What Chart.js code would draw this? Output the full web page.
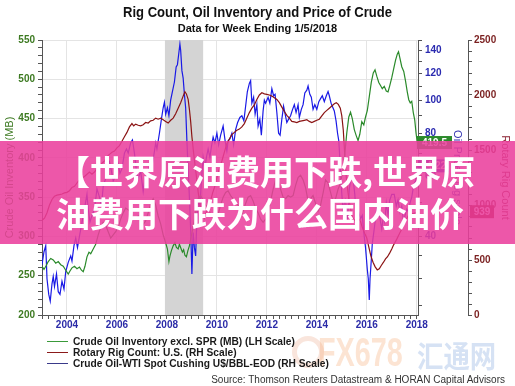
<!DOCTYPE html>
<html>
<head>
<meta charset="utf-8">
<script src="https://cdn.jsdelivr.net/npm/chart.js@4.4.1/dist/chart.umd.min.js"></script>
<style>
  body { margin: 0; background: #fff; }
  #wrap { position: relative; width: 515px; height: 386px; overflow: hidden; font-family: Arial, "Liberation Sans", sans-serif; }
  #chart { position: absolute; left: 0; top: 0; }
  .title { position: absolute; left: 0; width: 515px; text-align: center; font-weight: bold; color: #111; white-space: nowrap; }
  .legend { position: absolute; left: 47px; font-size: 10.2px; font-weight: bold; color: #1a1a1a; white-space: nowrap; line-height: 11px; }
  .legend span { display: inline-block; width: 21px; height: 0; border-top-width: 1.5px; border-top-style: solid; vertical-align: middle; margin-right: 5px; margin-top: -2px; }
  .source { position: absolute; right: 10px; top: 374px; font-size: 10px; color: #333; white-space: nowrap; }
  .wm { position: absolute; white-space: nowrap; font-weight: bold; }
  #banner { position: absolute; left: 0; top: 141px; width: 515px; height: 103px; background: rgba(234, 62, 156, 0.87); z-index: 5; }
  #banner div { position: absolute; left: 56px; color: #fff; font-family: "Noto Sans CJK SC", sans-serif; font-weight: bold; font-size: 34px; line-height: 42px; white-space: nowrap; }
</style>
</head>
<body>
<div id="wrap">
  <canvas id="chart" width="515" height="386"></canvas>
  <div class="title" style="top:4px;font-size:15px;line-height:16px;transform:scaleX(0.87);">Rig Count, Oil Inventory and Price of Crude</div>
  <div class="title" style="top:22px;font-size:11px;line-height:13px;">Data for Week Ending 1/5/2018</div>

  <div class="wm" style="left:292px;top:336px;width:22px;height:22px;border:5px solid rgba(235,170,140,0.3);border-radius:50%;"></div>
  <div class="wm" style="left:318px;top:330px;font-size:40px;color:rgba(245,165,110,0.3);transform:scaleX(0.72);transform-origin:left;">FX678</div>
  <div class="wm" style="left:417px;top:332px;font-size:30px;color:rgba(120,160,220,0.3);font-family:'Noto Sans CJK SC';transform:scaleX(0.88);transform-origin:left;">汇通网</div>

  <div class="legend" style="top:336px;"><span style="border-top-color:#3a9a3a"></span>Crude Oil Inventory excl. SPR (MB) (LH Scale)</div>
  <div class="legend" style="top:347px;"><span style="border-top-color:#8b1a1a"></span>Rotary Rig Count: U.S. (RH Scale)</div>
  <div class="legend" style="top:358px;"><span style="border-top-color:#3a3a8a"></span>Crude Oil-WTI Spot Cushing U$/BBL-EOD (RH Scale)</div>
  <div class="source">Source: Thomson Reuters Datastream &amp; HORAN Capital Advisors</div>

  <div id="banner">
    <div style="top:9px;">【世界原油费用下跌,世界原</div>
    <div style="top:51px;">油费用下跌为什么国内油价</div>
  </div>
</div>
<script>
// weekly series as [year, value]
const inventory = [
  [2003.0,262],[2003.08,258],[2003.17,263],[2003.25,268],[2003.35,272],[2003.45,270],[2003.55,266],[2003.65,268],
  [2003.75,264],[2003.85,262],[2003.95,257],[2004.05,252],[2004.12,256],[2004.2,260],[2004.3,262],[2004.4,259],
  [2004.5,261],[2004.58,257],[2004.65,255],[2004.72,262],[2004.8,274],[2004.88,280],[2004.95,278],[2005.05,284],
  [2005.15,290],[2005.25,302],[2005.35,312],[2005.45,318],[2005.55,314],[2005.65,306],[2005.75,298],[2005.85,302],
  [2005.95,306],[2006.05,312],[2006.15,322],[2006.25,330],[2006.35,336],[2006.45,334],[2006.55,330],[2006.65,324],
  [2006.75,322],[2006.85,326],[2006.95,318],[2007.05,315],[2007.15,320],[2007.25,330],[2007.35,342],[2007.45,348],
  [2007.55,340],[2007.65,326],[2007.75,316],[2007.85,302],[2007.95,292],[2008.02,284],[2008.08,268],[2008.12,275],
  [2008.18,282],[2008.25,288],[2008.32,292],[2008.38,286],[2008.45,284],[2008.5,290],[2008.56,285],[2008.62,280],
  [2008.67,283],[2008.72,276],[2008.78,274],[2008.84,282],[2008.9,288],[2008.96,298],[2009.05,312],[2009.15,330],
  [2009.25,348],[2009.35,352],[2009.45,346],[2009.55,340],[2009.65,336],[2009.75,328],[2009.85,322],[2009.95,320],
  [2010.05,328],[2010.15,340],[2010.25,350],[2010.35,356],[2010.45,358],[2010.55,352],[2010.65,348],[2010.75,342],
  [2010.85,340],[2010.95,325],[2011.05,332],[2011.15,342],[2011.25,350],[2011.35,352],[2011.45,345],[2011.55,336],
  [2011.65,330],[2011.75,322],[2011.85,318],[2011.95,322],[2012.05,330],[2012.15,345],[2012.25,360],[2012.35,372],
  [2012.45,372],[2012.55,360],[2012.65,350],[2012.75,348],[2012.85,352],[2012.95,350],[2013.05,352],[2013.15,365],
  [2013.25,375],[2013.35,378],[2013.45,372],[2013.55,362],[2013.65,345],[2013.75,348],[2013.85,352],[2013.95,342],
  [2014.05,332],[2014.15,340],[2014.25,355],[2014.35,372],[2014.45,368],[2014.55,356],[2014.65,344],[2014.75,348],
  [2014.85,360],[2014.95,368],[2015.05,386],[2015.12,405],[2015.2,432],[2015.28,452],[2015.35,458],[2015.42,450],
  [2015.5,436],[2015.58,428],[2015.65,422],[2015.72,430],[2015.8,446],[2015.88,442],[2015.95,452],[2016.02,460],
  [2016.1,478],[2016.18,496],[2016.26,508],[2016.33,512],[2016.4,504],[2016.48,496],[2016.55,492],[2016.62,488],
  [2016.7,491],[2016.78,485],[2016.85,484],[2016.92,492],[2017.0,502],[2017.08,514],[2017.15,524],[2017.22,532],
  [2017.27,535],[2017.32,528],[2017.4,516],[2017.48,510],[2017.55,498],[2017.62,484],[2017.68,474],[2017.74,470],
  [2017.8,472],[2017.86,458],[2017.92,448],[2017.97,432],[2018.02,419.5]
];

const rigCount = [
  [2003.0,860],[2003.1,880],[2003.2,930],[2003.3,1000],[2003.4,1050],[2003.5,1080],[2003.6,1090],[2003.7,1095],
  [2003.8,1100],[2003.9,1110],[2004.0,1115],[2004.1,1130],[2004.2,1160],[2004.3,1170],[2004.4,1200],[2004.5,1230],
  [2004.6,1245],[2004.7,1260],[2004.8,1280],[2004.9,1300],[2005.0,1280],[2005.1,1300],[2005.2,1330],[2005.3,1350],
  [2005.4,1380],[2005.5,1400],[2005.6,1440],[2005.7,1460],[2005.8,1480],[2005.9,1490],[2006.0,1520],[2006.1,1540],
  [2006.2,1580],[2006.3,1620],[2006.4,1660],[2006.5,1710],[2006.6,1740],[2006.67,1720],[2006.75,1735],[2006.85,1725],
  [2006.95,1720],[2007.05,1730],[2007.15,1750],[2007.25,1745],[2007.35,1765],[2007.45,1770],[2007.55,1790],[2007.65,1780],
  [2007.75,1790],[2007.85,1775],[2007.95,1760],[2008.05,1745],[2008.15,1770],[2008.25,1790],[2008.35,1830],[2008.45,1880],
  [2008.55,1930],[2008.65,1990],[2008.72,2030],[2008.78,2010],[2008.85,1960],[2008.9,1870],[2008.95,1760],[2009.0,1620],
  [2009.08,1450],[2009.16,1300],[2009.25,1120],[2009.33,990],[2009.42,920],[2009.5,880],[2009.58,940],[2009.67,1000],
  [2009.75,1040],[2009.83,1110],[2009.92,1170],[2010.0,1250],[2010.1,1330],[2010.2,1400],[2010.3,1480],[2010.4,1560],
  [2010.5,1600],[2010.6,1640],[2010.7,1660],[2010.8,1680],[2010.9,1690],[2011.0,1710],[2011.1,1740],[2011.2,1790],
  [2011.3,1840],[2011.4,1880],[2011.5,1910],[2011.6,1960],[2011.7,2000],[2011.8,2020],[2011.9,2010],[2012.0,2005],
  [2012.1,2000],[2012.2,1990],[2012.3,1975],[2012.4,1960],[2012.5,1930],[2012.6,1890],[2012.7,1850],[2012.8,1815],
  [2012.9,1790],[2013.0,1760],[2013.1,1755],[2013.2,1750],[2013.3,1760],[2013.4,1765],[2013.5,1770],[2013.6,1775],
  [2013.7,1760],[2013.8,1750],[2013.9,1760],[2014.0,1770],[2014.1,1780],[2014.2,1810],[2014.3,1840],[2014.4,1860],
  [2014.5,1880],[2014.6,1900],[2014.7,1920],[2014.78,1930],[2014.86,1915],[2014.94,1880],[2015.0,1810],[2015.06,1680],
  [2015.12,1450],[2015.18,1250],[2015.25,1110],[2015.33,990],[2015.42,890],[2015.5,860],[2015.58,875],[2015.67,880],
  [2015.75,850],[2015.83,790],[2015.92,740],[2016.0,700],[2016.08,620],[2016.16,540],[2016.25,480],[2016.33,440],
  [2016.42,410],[2016.5,420],[2016.58,450],[2016.67,480],[2016.75,510],[2016.83,530],[2016.92,565],[2017.0,600],
  [2017.08,640],[2017.2,690],[2017.33,750],[2017.45,800],[2017.55,850],[2017.65,900],[2017.75,925],[2017.85,920],
  [2017.95,930],[2018.02,939]
];

const oilPrice = [
  [2003.0,33],[2003.08,36],[2003.15,37.5],[2003.2,30],[2003.27,27],[2003.33,25.8],[2003.4,29],[2003.45,30.5],
  [2003.5,28.5],[2003.58,31],[2003.65,27.5],[2003.72,27],[2003.8,29.5],[2003.88,28],[2003.95,31.5],[2004.05,33.5],
  [2004.15,35],[2004.2,33.8],[2004.28,37.5],[2004.35,39.5],[2004.42,37],[2004.5,40],[2004.58,43],[2004.65,46],
  [2004.72,49],[2004.8,53],[2004.85,48],[2004.92,44],[2005.0,46],[2005.1,48],[2005.2,55],[2005.3,52],
  [2005.38,49],[2005.45,56],[2005.55,59],[2005.62,64],[2005.7,66],[2005.78,62],[2005.85,58],[2005.95,60],
  [2006.05,65],[2006.12,61],[2006.2,63],[2006.3,70],[2006.38,72],[2006.45,70],[2006.55,75],[2006.62,76.5],
  [2006.7,70],[2006.78,62],[2006.85,59],[2006.95,62],[2007.05,54],[2007.12,59],[2007.2,61],[2007.3,64],
  [2007.38,63],[2007.45,67],[2007.55,75],[2007.6,72],[2007.7,80],[2007.78,88],[2007.85,95],[2007.9,98.6],
  [2007.95,91],[2008.02,95],[2008.08,90],[2008.15,100],[2008.22,106],[2008.3,113],[2008.37,125],[2008.42,127],
  [2008.47,136],[2008.52,146],[2008.55,140],[2008.6,122],[2008.65,116],[2008.7,104],[2008.75,95],[2008.8,76],
  [2008.85,63],[2008.9,52],[2008.95,42],[2009.0,31],[2009.05,41],[2009.1,37],[2009.15,35],[2009.2,45],
  [2009.25,50],[2009.32,49],[2009.38,58],[2009.45,68],[2009.52,63],[2009.58,68],[2009.65,72],[2009.72,68],
  [2009.78,73],[2009.85,78],[2009.92,75],[2010.0,80],[2010.07,74],[2010.15,79],[2010.25,84],[2010.33,76],
  [2010.4,71],[2010.45,76],[2010.52,77],[2010.6,80],[2010.67,74],[2010.75,82],[2010.83,86],[2010.92,89],
  [2011.0,90],[2011.08,87],[2011.15,96],[2011.22,106],[2011.3,112],[2011.35,114],[2011.4,98],[2011.47,102],
  [2011.53,91],[2011.6,97],[2011.65,84],[2011.72,88],[2011.78,79],[2011.85,93],[2011.9,100],[2011.95,98],
  [2012.05,102],[2012.12,98],[2012.2,108],[2012.27,103],[2012.33,104],[2012.4,92],[2012.47,80],[2012.53,79],
  [2012.6,88],[2012.67,96],[2012.72,92],[2012.8,86],[2012.87,88],[2012.95,90],[2013.03,94],[2013.1,97],
  [2013.17,92],[2013.25,97],[2013.3,89],[2013.38,94],[2013.45,97],[2013.52,105],[2013.6,107],[2013.65,110],
  [2013.72,104],[2013.78,102],[2013.85,94],[2013.92,97],[2014.0,94],[2014.08,99],[2014.15,101],[2014.22,103],
  [2014.3,99],[2014.38,103],[2014.45,106],[2014.5,103],[2014.57,98],[2014.62,96],[2014.7,93],[2014.77,87],
  [2014.83,80],[2014.88,76],[2014.93,66],[2014.98,56],[2015.05,47],[2015.1,50],[2015.15,51],[2015.22,44],
  [2015.3,55],[2015.38,60],[2015.45,59],[2015.52,53],[2015.58,45],[2015.63,42],[2015.68,47],[2015.75,45],
  [2015.82,46],[2015.88,41],[2015.95,37],[2016.02,32],[2016.06,30],[2016.1,26],[2016.13,30],[2016.18,34],
  [2016.22,38],[2016.28,41],[2016.35,45],[2016.42,49],[2016.48,48],[2016.55,44],[2016.6,42],[2016.67,46],
  [2016.72,44],[2016.78,50],[2016.85,46],[2016.92,51],[2017.0,53],[2017.1,53],[2017.18,49],[2017.25,51],
  [2017.33,47],[2017.4,49],[2017.47,44],[2017.53,46],[2017.6,48],[2017.67,47],[2017.73,50],[2017.8,52],
  [2017.87,56],[2017.95,58],[2018.02,64.22]
];

const recession = [2007.92, 2009.45];
const oilTicks = [25, 30, 35, 40, 50, 60, 70, 80, 90, 100, 110, 120, 130, 140, 150];
const oilLabels = [40, 60, 80, 100, 120, 140];

const xTicks = [];
for (let q = 2003 * 4; q <= 2018 * 4; q++) xTicks.push(q / 4);
const invTicks = [];
for (let v = 200; v <= 550; v += 10) invTicks.push(v);
const rigTicks = [];
for (let v = 0; v <= 2500; v += 100) rigTicks.push(v);

const evenYear = v => Math.abs(v - Math.round(v)) < 1e-6 && Math.round(v) % 2 === 0;
const toXY = arr => arr.map(p => ({x: p[0], y: p[1]}));
const tickFont = {family: 'Arial', size: 10, weight: 'bold'};
const titleFont = {family: 'Arial', size: 11};

const shade = {
  id: 'shade',
  beforeDatasetsDraw(chart) {
    const {ctx, chartArea} = chart;
    const x = chart.scales.x;
    const x1 = x.getPixelForValue(recession[0]), x2 = x.getPixelForValue(recession[1]);
    ctx.save();
    ctx.fillStyle = '#d4d4d4';
    ctx.fillRect(x1, chartArea.top, x2 - x1, chartArea.bottom - chartArea.top);
    ctx.restore();
  }
};

const endLabels = {
  id: 'endLabels',
  afterDraw(chart) {
    const ctx = chart.ctx, area = chart.chartArea, s = chart.scales;
    const inv = inventory[inventory.length - 1][1];
    const oil = oilPrice[oilPrice.length - 1][1];
    const rig = rigCount[rigCount.length - 1][1];
    const items = [
      {y: s.yInv.getPixelForValue(inv), text: inv.toFixed(1), x: area.right - 1, w: 35, color: '#2b8a2b'},
      {y: s.yOil.getPixelForValue(oil), text: oil.toFixed(2), x: area.right, w: 31, color: '#2a2ad0'},
      {y: s.yRig.getPixelForValue(rig), text: String(rig), x: s.yRig.left + 2, w: 24, color: '#8b1414'}
    ];
    ctx.save();
    ctx.font = 'bold 10px Arial';
    ctx.textAlign = 'center';
    ctx.textBaseline = 'middle';
    items.forEach(it => {
      ctx.fillStyle = it.color;
      ctx.fillRect(it.x, it.y - 6.5, it.w, 13);
      ctx.fillStyle = '#fff';
      ctx.fillText(it.text, it.x + it.w / 2, it.y + 0.5);
    });
    ctx.restore();
  }
};

new Chart(document.getElementById('chart'), {
  type: 'line',
  data: {
    datasets: [
      {label: 'Crude Oil Inventory excl. SPR (MB) (LH Scale)', data: toXY(inventory), yAxisID: 'yInv',
       borderColor: '#2a8a2a', borderWidth: 1.2, pointRadius: 0},
      {label: 'Rotary Rig Count: U.S. (RH Scale)', data: toXY(rigCount), yAxisID: 'yRig',
       borderColor: '#8b1414', borderWidth: 1.2, pointRadius: 0},
      {label: 'Crude Oil-WTI Spot Cushing U$/BBL-EOD (RH Scale)', data: toXY(oilPrice), yAxisID: 'yOil',
       borderColor: '#1a1ae6', borderWidth: 1.2, pointRadius: 0}
    ]
  },
  options: {
    responsive: false,
    animation: false,
    devicePixelRatio: 1,
    layout: {padding: {left: 0, right: 0, top: 40, bottom: 51}},
    plugins: {legend: {display: false}, tooltip: {enabled: false}},
    scales: {
      x: {
        type: 'linear', position: 'bottom', min: 2003, max: 2018.05, bounds: 'data',
        afterBuildTicks: sc => { sc.ticks = xTicks.map(v => ({value: v})); },
        afterFit: sc => { sc.height = 20; },
        grid: {color: c => (c.tick && evenYear(c.tick.value) ? '#e4e4e4' : 'rgba(0,0,0,0)'), tickColor: '#555', tickLength: 4},
        border: {color: '#555'},
        ticks: {autoSkip: false, maxRotation: 0, padding: 0, color: '#2b2ba8', font: tickFont,
                callback: v => (evenYear(v) ? String(Math.round(v)) : '')}
      },
      yInv: {
        type: 'linear', position: 'left', min: 200, max: 550, bounds: 'data',
        afterBuildTicks: sc => { sc.ticks = invTicks.map(v => ({value: v})); },
        afterFit: sc => { sc.width = 42; },
        grid: {color: c => (c.tick && c.tick.value % 50 === 0 && c.tick.value > 200 ? '#e4e4e4' : 'rgba(0,0,0,0)'), tickColor: '#555', tickLength: 4},
        border: {color: '#555'},
        ticks: {autoSkip: false, padding: 3, color: '#3d7a22', font: tickFont,
                callback: v => (v % 50 === 0 ? String(v) : '')},
        title: {display: true, text: 'Crude Oil Inventory (MB)', color: '#3d7a22', font: titleFont, padding: {top: 3, bottom: 0}}
      },
      yOil: {
        type: 'logarithmic', position: 'right', min: 23.5, max: 150, bounds: 'data',
        afterBuildTicks: sc => { sc.ticks = oilTicks.map(v => ({value: v})); },
        afterFit: sc => { sc.width = 50; },
        grid: {drawOnChartArea: false, tickColor: '#555', tickLength: 4},
        border: {color: '#555'},
        ticks: {autoSkip: false, padding: 3, color: '#2a2ab0', font: tickFont,
                callback: v => (oilLabels.includes(v) ? String(v) : '')},
        title: {display: true, text: 'Oil Price - log scale', color: '#3030b0', font: titleFont, padding: {top: 4, bottom: 0}}
      },
      yRig: {
        type: 'linear', position: 'right', min: 0, max: 2500, bounds: 'data',
        afterBuildTicks: sc => { sc.ticks = rigTicks.map(v => ({value: v})); },
        afterFit: sc => { sc.width = 47; },
        grid: {drawOnChartArea: false, tickColor: '#555', tickLength: 4},
        border: {color: '#555'},
        ticks: {autoSkip: false, padding: 2, color: '#7a1f1f', font: tickFont,
                callback: v => (v % 500 === 0 ? String(v) : '')},
        title: {display: true, text: 'Rotary Rig Count', color: '#8a2030', font: titleFont, padding: {top: 3, bottom: 0}}
      }
    }
  },
  plugins: [shade, endLabels]
});
</script>
</body>
</html>
